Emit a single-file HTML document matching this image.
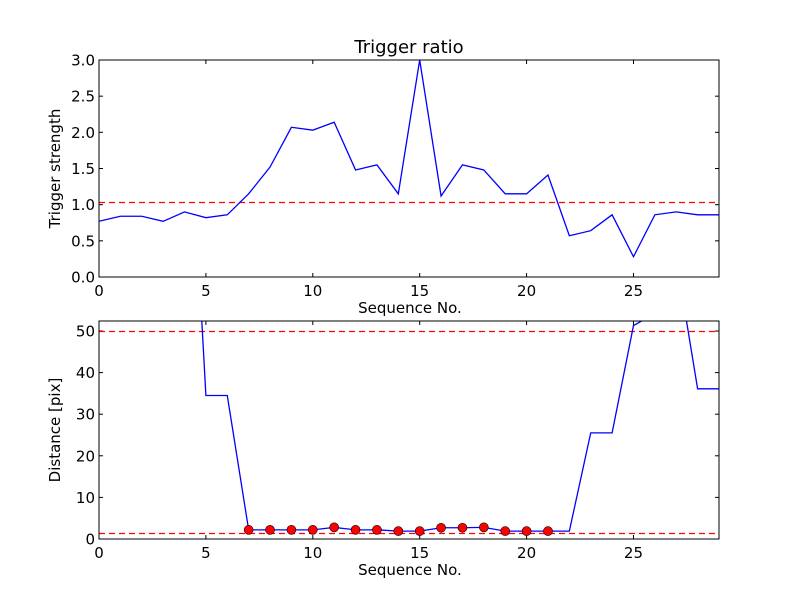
<!DOCTYPE html>
<html><head><meta charset="utf-8"><style>body{margin:0;background:#fff}svg{display:block;font-family:"DejaVu Sans","Liberation Sans",sans-serif}</style></head>
<body>
<svg id="c" width="800" height="600" viewBox="0 0 800 600">
<defs>
<clipPath id="c1"><rect x="99" y="60" width="620" height="217"/></clipPath>
<clipPath id="c2"><rect x="99" y="321" width="620" height="218"/></clipPath>
</defs>
<text x="409" y="53" font-size="18" text-anchor="middle">Trigger ratio</text>
<g id="top"></g>
<g id="bot"></g>
</svg>
<script>
const seq = [0,1,2,3,4,5,6,7,8,9,10,11,12,13,14,15,16,17,18,19,20,21,22,23,24,25,26,27,28,29];
const strength = [0.77,0.84,0.84,0.77,0.90,0.82,0.86,1.15,1.52,2.07,2.03,2.14,1.48,1.55,1.15,3.0,1.12,1.55,1.48,1.15,1.15,1.41,0.57,0.64,0.86,0.28,0.86,0.90,0.86,0.86];
const strengthThreshold = 1.04;
const distance = [128,128,128,128,128,34.5,34.5,2.2,2.2,2.2,2.2,2.8,2.2,2.2,1.9,1.9,2.7,2.7,2.8,1.9,1.9,1.9,1.9,25.5,25.5,51.3,54.2,67.4,36.1,36.1];
const markedIdx = [7,8,9,10,11,12,13,14,15,16,17,18,19,20,21];
const distThresholds = [50,1.44];
const topYTicks = [0,0.5,1.0,1.5,2.0,2.5,3.0];
const botYTicks = [0,10,20,30,40,50];
const xTicks = [0,5,10,15,20,25];

const NS="http://www.w3.org/2000/svg";
function mk(p,t,a){const e=document.createElementNS(NS,t);for(const k in a)e.setAttribute(k,a[k]);p.appendChild(e);return e;}
function panel(g,top,bot,ymax,yticks,fmt,ylabel,clip){
  const L=99,R=719,xmax=29;
  const X=v=>L+(R-L)*v/xmax, Y=v=>bot-(bot-top)*v/ymax;
  xTicks.forEach(t=>{
    const l=mk(g,'line',{x1:X(t),x2:X(t),y1:bot,y2:bot-4,stroke:'#000'});
    
    
    mk(g,'line',{x1:X(t),x2:X(t),y1:top,y2:top+4,stroke:'#000'});
    const tx=mk(g,'text',{x:X(t),y:bot+19,'font-size':15,'text-anchor':'middle'});
    tx.textContent=t;
    
    
  });
  yticks.forEach(t=>{
    mk(g,'line',{x1:L,x2:L+4,y1:Y(t),y2:Y(t),stroke:'#000'});
    mk(g,'line',{x1:R,x2:R-4,y1:Y(t),y2:Y(t),stroke:'#000'});
    const tx=mk(g,'text',{x:L-4,y:Y(t)+5.5,'font-size':15,'text-anchor':'end'});
    tx.textContent=fmt(t);
    
    
  });
  const xl=mk(g,'text',{x:410,y:bot+36,'font-size':15,'text-anchor':'middle'});
  xl.textContent='Sequence No.';
  
  
  const cy=(top+bot)/2;
  const yl=mk(g,'text',{x:0,y:0,'font-size':15,'text-anchor':'middle',transform:`translate(${L-39},${cy}) rotate(-90)`});
  yl.textContent=ylabel;
  
  
  const cg=mk(g,'g',{'clip-path':`url(#${clip})`});
  return {X,Y,cg,L,R,top,bot};
}
const gt=document.getElementById('top');
const p1=panel(gt,60,277,3,topYTicks,v=>v.toFixed(1),'Trigger strength','c1');
const th=mk(p1.cg,'line',{x1:p1.L,x2:p1.R,y1:Math.round(p1.Y(strengthThreshold))+0.5,y2:Math.round(p1.Y(strengthThreshold))+0.5,stroke:'#f00','stroke-width':1.3,'stroke-dasharray':'6,4'});


const l1=mk(p1.cg,'polyline',{points:seq.map((s,i)=>p1.X(s)+','+p1.Y(strength[i])).join(' '),fill:'none',stroke:'#00f','stroke-width':1.3});


mk(gt,'rect',{x:99,y:60,width:620,height:217,fill:'none',stroke:'#000'});

const gb=document.getElementById('bot');
const p2=panel(gb,321,539,52.4,botYTicks,v=>v,'Distance [pix]','c2');
distThresholds.forEach(t=>{
  const yy=Math.round(p2.Y(t))+0.5;
  const d=mk(p2.cg,'line',{x1:p2.L,x2:p2.R,y1:yy,y2:yy,stroke:'#f00','stroke-width':1.3,'stroke-dasharray':'6,4'});
  
  
});
const l2=mk(p2.cg,'polyline',{points:seq.map((s,i)=>p2.X(s)+','+p2.Y(distance[i])).join(' '),fill:'none',stroke:'#00f','stroke-width':1.3});


markedIdx.forEach(i=>{
  const c=mk(p2.cg,'circle',{cx:p2.X(seq[i]),cy:p2.Y(distance[i]),r:4.5,fill:'#f00',stroke:'#000','stroke-width':0.6});
  
  
});
mk(gb,'rect',{x:99,y:321,width:620,height:218,fill:'none',stroke:'#000'});
</script>
</body></html>
